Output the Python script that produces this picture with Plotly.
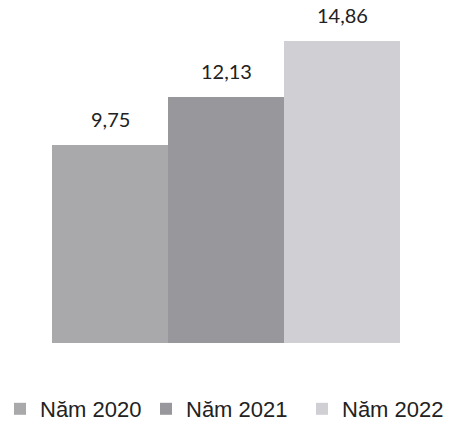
import plotly.graph_objects as go

categories = ["Năm 2020", "Năm 2021", "Năm 2022"]
values = [9.75, 12.13, 14.86]
colors = ["#a9a9ac", "#98989c", "#cfcfd4"]

legend_ids = ["legend", "legend2", "legend3"]
legend_x = [0, 146, 302]  # px start of each legend box

fig = go.Figure()
for cat, val, col, lid in zip(categories, values, colors, legend_ids):
    fig.add_trace(go.Bar(
        x=[cat], y=[val], name=cat,
        marker=dict(color=col, line=dict(width=0)),
        hoverinfo="skip", legend=lid,
    ))

for cat, val in zip(categories, values):
    fig.add_annotation(
        x=cat, y=val, text=f"{val:.2f}".replace(".", ","),
        showarrow=False, yanchor="middle", yshift=26,
        font=dict(family="Lato, Open Sans, sans-serif", size=20, color="#222222"),
    )

W, H = 454, 430
layout_legends = {}
for lid, lx in zip(legend_ids, legend_x):
    layout_legends[lid] = dict(
        orientation="h", xref="container", yref="container",
        x=lx / W, xanchor="left", y=-0.008, yanchor="bottom",
        font=dict(family="Liberation Sans, Arial, sans-serif", size=22, color="#222222"),
        bgcolor="rgba(0,0,0,0)",
    )

fig.update_layout(
    width=W, height=H,
    margin=dict(l=52, r=54, t=18, b=87),
    paper_bgcolor="white", plot_bgcolor="white",
    barmode="overlay", bargap=0,
    showlegend=True,
    xaxis=dict(visible=False, categoryorder="array", categoryarray=categories),
    yaxis=dict(visible=False, range=[0, 16]),
    **layout_legends,
)

fig.write_html("out.html", config={"displayModeBar": False},
               post_script="document.body.style.margin='0';")
